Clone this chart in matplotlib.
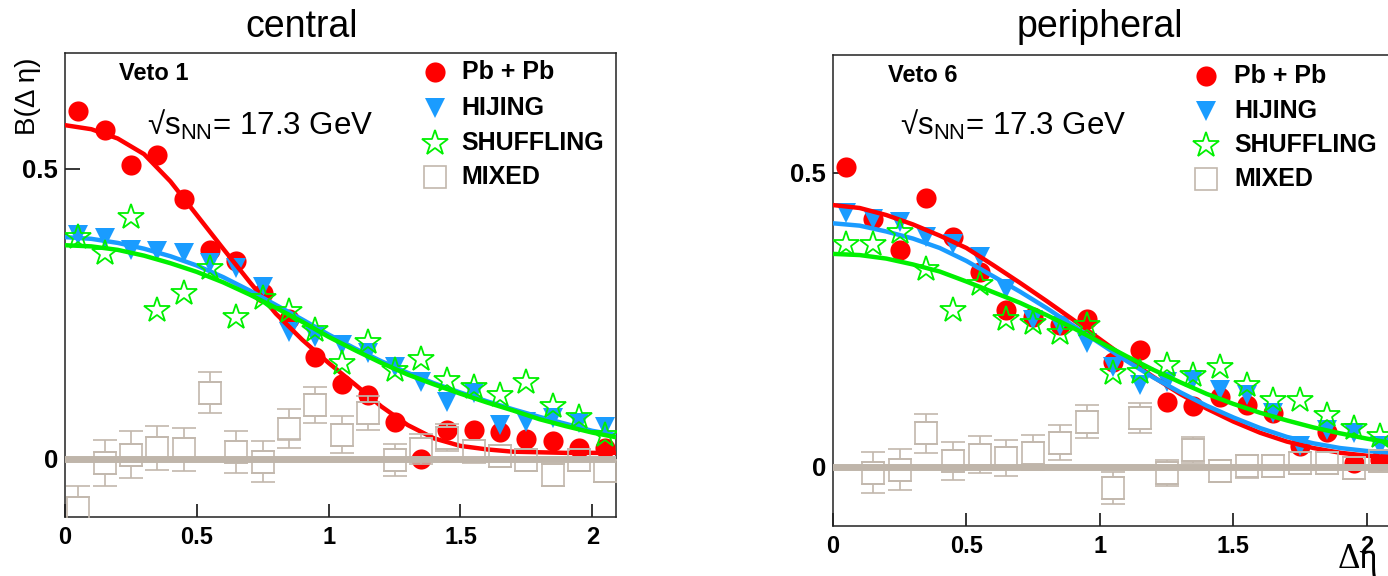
import numpy as np
import matplotlib
matplotlib.use("Agg")
import matplotlib.pyplot as plt

plt.rcParams['font.family'] = ['Liberation Sans', 'DejaVu Sans']
plt.rcParams['mathtext.fontset'] = 'custom'
plt.rcParams['mathtext.rm'] = 'Liberation Sans'

# Delta-eta bin centres
deta = [0.05, 0.15, 0.25, 0.35, 0.45, 0.55, 0.65, 0.75, 0.85, 0.95, 1.05,
        1.15, 1.25, 1.35, 1.45, 1.55, 1.65, 1.75, 1.85, 1.95, 2.05]
# abscissa of the tabulated fit curves
fit_x = [0.0, 0.1, 0.2, 0.3, 0.4, 0.5, 0.6, 0.7, 0.8, 0.9, 1.0,
         1.1, 1.2, 1.3, 1.4, 1.5, 1.6, 1.7, 1.8, 1.9, 2.0, 2.1]

# central (Veto 1)
pbpb_c = [0.600, 0.566, 0.507, 0.524, 0.447, 0.360, 0.340, 0.286, 0.240, 0.175, 0.128,
          0.110, 0.064, 0.000, 0.050, 0.050, 0.046, 0.034, 0.030, 0.019, 0.019]
hijing_c = [0.385, 0.381, 0.360, 0.358, 0.355, 0.338, 0.328, 0.296, 0.218, 0.210, 0.196,
            0.182, 0.158, 0.132, 0.098, 0.113, 0.058, 0.064, 0.070, 0.062, 0.055]
shuffle_c = [0.383, 0.355, 0.417, 0.257, 0.286, 0.329, 0.245, 0.277, 0.255, 0.222, 0.165,
             0.202, 0.153, 0.171, 0.136, 0.124, 0.110, 0.133, 0.090, 0.072, 0.041]
mixed_c = [-0.085, -0.007, 0.007, 0.019, 0.016, 0.114, 0.012, -0.005, 0.052, 0.092, 0.041,
           0.079, -0.002, 0.017, 0.036, 0.013, 0.004, -0.002, -0.028, -0.002, -0.022]
mixed_err_c = [0.038, 0.040, 0.040, 0.038, 0.037, 0.036, 0.036, 0.035, 0.033, 0.031, 0.032,
               0.029, 0.028, 0.026, 0.023, 0.020, 0.015, 0.012, 0.012, 0.012, 0.012]
red_fit_c = [0.575, 0.568, 0.552, 0.525, 0.478, 0.420, 0.362, 0.305, 0.250, 0.205, 0.165,
             0.128, 0.090, 0.058, 0.035, 0.022, 0.016, 0.012, 0.011, 0.010, 0.010, 0.010]
blue_fit_c = [0.382, 0.379, 0.372, 0.362, 0.349, 0.333, 0.313, 0.290, 0.265, 0.240, 0.214,
              0.190, 0.168, 0.148, 0.130, 0.114, 0.099, 0.085, 0.072, 0.060, 0.048, 0.040]
green_fit_c = [0.368, 0.366, 0.360, 0.350, 0.337, 0.322, 0.304, 0.283, 0.260, 0.236, 0.210,
               0.187, 0.165, 0.145, 0.128, 0.112, 0.097, 0.083, 0.068, 0.056, 0.045, 0.036]

# peripheral (Veto 6)
pbpb_p = [0.510, 0.421, 0.368, 0.457, 0.390, 0.331, 0.266, 0.255, 0.241, 0.252, 0.179,
          0.198, 0.111, 0.104, 0.119, 0.105, 0.091, 0.035, 0.060, 0.007, 0.012]
hijing_p = [0.432, 0.421, 0.416, 0.390, 0.379, 0.356, 0.303, 0.249, 0.240, 0.210, 0.169,
            0.139, 0.145, 0.148, 0.131, 0.122, 0.091, 0.035, 0.063, 0.057, 0.035]
shuffle_p = [0.379, 0.379, 0.399, 0.337, 0.266, 0.311, 0.252, 0.244, 0.227, 0.241, 0.159,
             0.162, 0.173, 0.156, 0.170, 0.139, 0.114, 0.114, 0.088, 0.066, 0.052]
mixed_p = [np.nan, -0.010, -0.005, 0.057, 0.010, 0.021, 0.015, 0.024, 0.041, 0.077, -0.036,
           0.083, -0.010, 0.029, -0.007, 0.001, 0.001, 0.007, 0.007, -0.002, 0.010]
mixed_err_p = [0.0, 0.035, 0.035, 0.033, 0.032, 0.032, 0.031, 0.030, 0.030, 0.028, 0.027,
               0.025, 0.022, 0.022, 0.017, 0.020, 0.015, 0.015, 0.015, 0.015, 0.015]
red_fit_p = [0.445, 0.440, 0.428, 0.412, 0.393, 0.372, 0.343, 0.313, 0.282, 0.250, 0.217,
             0.184, 0.153, 0.124, 0.099, 0.077, 0.058, 0.043, 0.032, 0.024, 0.019, 0.016]
blue_fit_p = [0.414, 0.410, 0.400, 0.388, 0.372, 0.350, 0.324, 0.298, 0.270, 0.240, 0.210,
              0.180, 0.152, 0.127, 0.104, 0.084, 0.066, 0.051, 0.040, 0.032, 0.027, 0.024]
green_fit_p = [0.362, 0.360, 0.354, 0.344, 0.332, 0.315, 0.297, 0.279, 0.258, 0.236, 0.212,
               0.188, 0.165, 0.144, 0.124, 0.107, 0.092, 0.079, 0.067, 0.057, 0.048, 0.040]

xticks = [0, 0.5, 1, 1.5, 2]
xtick_labels = ['0', '0.5', '1', '1.5', '2']
yticks = [0, 0.5]
ytick_labels = ['0', '0.5']

RED = '#ff0000'
BLUE = '#1a9cff'
GREEN = '#00f000'
TAN = '#c2b8ad'
SQ = 15.8  # square marker side in points

fig = plt.figure(figsize=(13.88, 5.76), dpi=100)
ax1 = fig.add_axes([0.0468, 0.1030, 0.397, 0.8056])
ax2 = fig.add_axes([0.6001, 0.0873, 0.402, 0.8172])


def draw_panel(ax, pbpb, hijing, shuffle, mixed, mixed_err, red_fit, blue_fit, green_fit):
    ax.set_xlim(0, 2.09)
    ax.set_ylim(-0.1, 0.7)

    ax.plot(deta, pbpb, 'o', color=RED, ms=14.5, mew=0, zorder=3)
    ax.plot(deta, hijing, 'v', color=BLUE, ms=14, mew=0, zorder=4)
    ax.plot(fit_x, red_fit, '-', color=RED, lw=3.2, zorder=5)
    ax.plot(fit_x, blue_fit, '-', color=BLUE, lw=3.2, zorder=5)
    ax.plot(fit_x, green_fit, '-', color=GREEN, lw=3.2, zorder=5)
    ax.plot(deta, shuffle, '*', mfc='none', mec=GREEN, ms=19, mew=1.3, zorder=6)

    # hollow boxes; error bars start at the box edge
    ax_h = ax.get_position().height * fig.get_figheight() * 72
    half = (SQ / 2) * 0.8 / ax_h
    y = np.array(mixed)
    e = np.clip(np.array(mixed_err) - half, 0, None)
    z = np.zeros_like(e)
    ax.errorbar(deta, y + half, yerr=[z, e], fmt='none', ecolor=TAN,
                elinewidth=1.2, capsize=8.5, capthick=1.2, zorder=7)
    ax.errorbar(deta, y - half, yerr=[e, z], fmt='none', ecolor=TAN,
                elinewidth=1.2, capsize=8.5, capthick=1.2, zorder=7)
    ax.plot(deta, y, 's', mfc='none', mec=TAN, ms=SQ, mew=1.2, zorder=7)

    ax.axhline(0, color='#bfb5aa', lw=5, zorder=10)

    ax.set_xticks(xticks, labels=xtick_labels)
    ax.set_yticks(yticks, labels=ytick_labels)
    ax.tick_params(axis='x', direction='in', length=9.5, width=1.1, pad=7,
                   labelsize=17, top=False)
    ax.tick_params(axis='y', direction='in', length=11, width=1.1, pad=5,
                   labelsize=18.5, right=False)
    for lbl in ax.get_xticklabels() + ax.get_yticklabels():
        lbl.set_fontweight('bold')
    for sp in ax.spines.values():
        sp.set_linewidth(1.1)
        sp.set_color('#222222')


def draw_key(ax, xm, xt, rows):
    styles = [dict(marker='o', color=RED, ms=14.5, mew=0),
              dict(marker='v', color=BLUE, ms=14, mew=0),
              dict(marker='*', mfc='none', mec=GREEN, ms=19, mew=1.3),
              dict(marker='s', mfc='none', mec=TAN, ms=SQ, mew=1.2)]
    names = ['Pb + Pb', 'HIJING', 'SHUFFLING', 'MIXED']
    for st, name, yy in zip(styles, names, rows):
        ax.plot([xm], [yy], linestyle='none', transform=ax.transAxes,
                clip_on=False, zorder=12, **st)
        ax.text(xt, yy, name, transform=ax.transAxes, ha='left', va='center',
                fontsize=18, fontweight='bold', clip_on=False)


draw_panel(ax1, pbpb_c, hijing_c, shuffle_c, mixed_c, mixed_err_c,
           red_fit_c, blue_fit_c, green_fit_c)
draw_panel(ax2, pbpb_p, hijing_p, shuffle_p, mixed_p, mixed_err_p,
           red_fit_p, blue_fit_p, green_fit_p)

draw_key(ax1, 0.671, 0.720, [0.958, 0.880, 0.805, 0.732])
draw_key(ax2, 0.668, 0.719, [0.955, 0.882, 0.809, 0.736])

ax1.text(0.098, 0.955, 'Veto 1', transform=ax1.transAxes, ha='left', va='center',
         fontsize=17, fontweight='bold')
ax2.text(0.0986, 0.9575, 'Veto 6', transform=ax2.transAxes, ha='left', va='center',
         fontsize=17, fontweight='bold')

energy = '√s$_{\\mathrm{NN}}$= 17.3 GeV'
ax1.text(0.149, 0.823, energy, transform=ax1.transAxes, ha='left', va='baseline', fontsize=22.5)
ax2.text(0.120, 0.830, energy, transform=ax2.transAxes, ha='left', va='baseline', fontsize=22.5)

ax1.text(-0.067, 0.905, 'B(Δ η)', transform=ax1.transAxes, rotation=90,
         ha='center', va='center', fontsize=20)

fig.text(302 / 1388, 1 - 37 / 576, 'central', ha='center', va='baseline', fontsize=27)
fig.text(1100 / 1388, 1 - 37 / 576, 'peripheral', ha='center', va='baseline', fontsize=27)
fig.text(1338 / 1388, 1 - 568 / 576, 'Δη', ha='left', va='baseline', fontsize=25,
         family=['Liberation Serif', 'DejaVu Serif'])

fig.savefig('out.png', dpi=100)
